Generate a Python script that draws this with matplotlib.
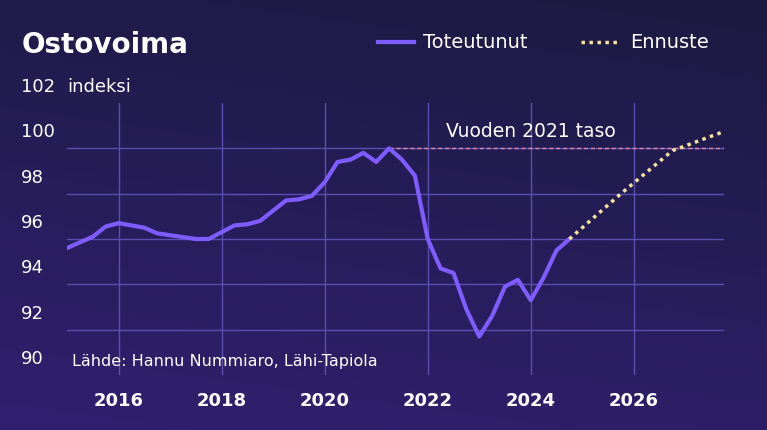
import numpy as np
import matplotlib
matplotlib.use("Agg")
import matplotlib.pyplot as plt
from matplotlib.lines import Line2D

years = [2015.0,2015.5,2015.75,2016.0,2016.5,2016.75,2017.2,2017.5,2017.75,2018.0,2018.25,2018.5,2018.75,
         2019.25,2019.5,2019.75,2020.0,2020.25,2020.5,2020.75,2021.0,2021.25,2021.5,2021.75,2022.0,2022.25,
         2022.5,2022.75,2023.0,2023.25,2023.5,2023.75,2024.0,2024.25,2024.5,2024.75]
actual = [95.6,96.1,96.55,96.7,96.5,96.25,96.1,96.0,96.0,96.3,96.6,96.65,96.8,
          97.7,97.75,97.9,98.5,99.4,99.5,99.8,99.4,100.0,99.5,98.8,96.0,94.7,
          94.5,92.9,91.7,92.6,93.9,94.2,93.3,94.3,95.5,96.0]
fc_years = [2024.75, 2025.75, 2026.75, 2027.7]
forecast = [96.0, 98.0, 99.9, 100.7]
yticks = [90, 92, 94, 96, 98, 100, 102]
xticks = [2016, 2018, 2020, 2022, 2024, 2026]

W, H = 767, 431
fig = plt.figure(figsize=(W/100, H/100), dpi=100)
bg = fig.add_axes([0, 0, 1, 1])
yy, xx = np.mgrid[0:1:200j, 0:1:200j]
t = np.clip(0.8*(1-yy) + 0.2*(1-xx), 0, 1)   # 0 = top, 1 = bottom-left
c_top = np.array([0x1c, 0x1a, 0x40])/255
c_bot = np.array([0x30, 0x20, 0x70])/255
img = c_top[None, None, :]*(1-t[..., None]) + c_bot[None, None, :]*t[..., None]
bg.imshow(img, aspect='auto', extent=[0, 1, 0, 1], origin='lower')
bg.axis('off')

x0, x1 = 2015.0, 2027.75
ax = fig.add_axes([67/W, 1-376/H, (724-67)/W, (376-104)/H])
ax.patch.set_alpha(0)
ax.set_xlim(x0, x1)
ax.set_ylim(90, 102)
for s in ax.spines.values():
    s.set_visible(False)
ax.set_xticks([]); ax.set_yticks([])
gc = '#5a4fb0'
for v in yticks[1:-1]:
    ax.axhline(v, color=gc, lw=1, zorder=1)
for v in xticks:
    ax.axvline(v, color=gc, lw=1, zorder=1)
ax.axhline(100, xmin=(2021.25-x0)/(x1-x0), color='#e08aa8', lw=1, ls=(0, (3, 2)), zorder=2)
ax.text(2024.0, 100.35, 'Vuoden 2021 taso', color='white', fontsize=13.5, ha='center', va='bottom')
ax.plot(years, actual, color='#7f5cff', lw=3, zorder=3, solid_capstyle='round')
ax.plot(fc_years, forecast, color='#f5e3a0', lw=2.5, ls=(0, (1, 1.3)), zorder=3)
ax.text(2015.1, 90.3, 'Lähde: Hannu Nummiaro, Lähi-Tapiola', color='white', fontsize=11.5, va='bottom')

for v in yticks:
    ax.text(-0.07, v + 0.35, str(v), transform=ax.get_yaxis_transform(), color='white',
            fontsize=13, ha='left', va='bottom')
ax.text(-0.0, 102.35, 'indeksi', transform=ax.get_yaxis_transform(), color='white',
        fontsize=13, ha='left', va='bottom')
for v in xticks:
    ax.text(v, -0.06, str(v), transform=ax.get_xaxis_transform(), color='white',
            fontsize=13, fontweight='bold', ha='center', va='top')

fig.text(22/W, 1-45/H, 'Ostovoima', color='white', fontsize=20, fontweight='bold', va='center')
fig.add_artist(Line2D([378/W, 414/W], [1-43/H]*2, color='#7f5cff', lw=3))
fig.text(423/W, 1-43/H, 'Toteutunut', color='white', fontsize=14, va='center')
fig.add_artist(Line2D([581/W, 620/W], [1-43/H]*2, color='#f5e3a0', lw=2.5, ls=(0, (1, 1.3))))
fig.text(630/W, 1-43/H, 'Ennuste', color='white', fontsize=14, va='center')

fig.savefig('out.png', dpi=100)
